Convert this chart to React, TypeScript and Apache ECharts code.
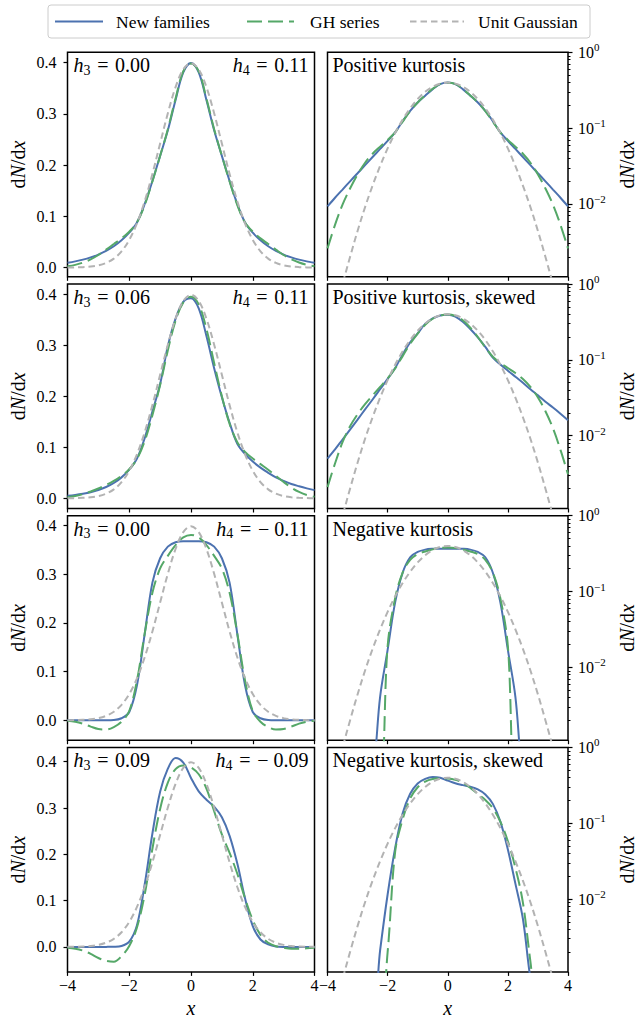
import React, { useEffect, useRef } from "react";
import * as echarts from "echarts";

// ---------- data ----------
const X = [-4, -3.75, -3.5, -3.25, -3, -2.75, -2.5, -2.25, -2, -1.75, -1.5, -1.25, -1, -0.75, -0.5, -0.25, 0,
  0.25, 0.5, 0.75, 1, 1.25, 1.5, 1.75, 2, 2.25, 2.5, 2.75, 3, 3.25, 3.5, 3.75, 4];

const GAUSS = [0.00013, 0.00035, 0.00087, 0.002, 0.0044, 0.0091, 0.0175, 0.0317, 0.054, 0.0863, 0.1295, 0.1826, 0.242, 0.3011, 0.3521, 0.3867, 0.3989,
  0.3867, 0.3521, 0.3011, 0.242, 0.1826, 0.1295, 0.0863, 0.054, 0.0317, 0.0175, 0.0091, 0.0044, 0.002, 0.00087, 0.00035, 0.00013];

const NEW_1 = [0.0093, 0.0121, 0.0155, 0.0199, 0.0254, 0.0325, 0.0416, 0.0532, 0.068, 0.088, 0.124, 0.169, 0.218, 0.268, 0.327, 0.381, 0.399,
  0.381, 0.327, 0.268, 0.218, 0.169, 0.124, 0.088, 0.068, 0.0532, 0.0416, 0.0325, 0.0254, 0.0199, 0.0155, 0.0121, 0.0093];
const GH_1 = [0.0026, 0.0053, 0.0098, 0.016, 0.0245, 0.035, 0.046, 0.057, 0.07, 0.088, 0.122, 0.168, 0.218, 0.27, 0.33, 0.383, 0.398,
  0.383, 0.33, 0.27, 0.218, 0.168, 0.122, 0.088, 0.07, 0.057, 0.046, 0.035, 0.0245, 0.016, 0.0098, 0.0053, 0.0026];

const NEW_2 = [0.005, 0.0066, 0.0089, 0.012, 0.0163, 0.0222, 0.03, 0.041, 0.056, 0.078, 0.118, 0.17, 0.224, 0.298, 0.352, 0.385, 0.392,
  0.372, 0.318, 0.255, 0.198, 0.148, 0.107, 0.087, 0.072, 0.06, 0.05, 0.041, 0.034, 0.028, 0.0235, 0.0195, 0.016];
const GH_2 = [0.0021, 0.0043, 0.0082, 0.0133, 0.0192, 0.026, 0.034, 0.044, 0.057, 0.077, 0.112, 0.163, 0.222, 0.29, 0.348, 0.384, 0.395,
  0.38, 0.332, 0.265, 0.2, 0.146, 0.11, 0.091, 0.078, 0.067, 0.056, 0.044, 0.032, 0.021, 0.0125, 0.0065, 0.0031];

const NEW_3 = [0, 0, 0, 0, 0.000001, 0.00002, 0.0004, 0.0041, 0.017, 0.072, 0.177, 0.283, 0.333, 0.357, 0.366, 0.368, 0.368,
  0.368, 0.366, 0.357, 0.333, 0.283, 0.177, 0.072, 0.017, 0.0041, 0.0004, 0.00002, 0.000001, 0, 0, 0, 0];
const GH_3 = [-0.001, -0.003, -0.007, -0.013, -0.018, -0.019, -0.014, -0.003, 0.019, 0.082, 0.178, 0.262, 0.312, 0.338, 0.36, 0.376, 0.381,
  0.376, 0.36, 0.338, 0.312, 0.262, 0.178, 0.082, 0.019, -0.003, -0.014, -0.019, -0.018, -0.013, -0.007, -0.003, -0.001];

const NEW_4 = [0, 0, 0, 0.000001, 0.00001, 0.00005, 0.0003, 0.0021, 0.0115, 0.047, 0.135, 0.245, 0.335, 0.385, 0.408, 0.398, 0.365,
  0.336, 0.318, 0.303, 0.28, 0.24, 0.18, 0.105, 0.045, 0.016, 0.0055, 0.0009, 0.00005, 0.000001, 0, 0, 0];
const GH_4 = [-0.002, -0.004, -0.008, -0.015, -0.024, -0.03, -0.032, -0.02, 0.002, 0.042, 0.113, 0.212, 0.298, 0.355, 0.384, 0.392, 0.388,
  0.373, 0.342, 0.293, 0.243, 0.203, 0.158, 0.105, 0.058, 0.026, 0.009, 0.0015, -0.002, -0.004, -0.004, -0.003, -0.002];

const H3_LABELS = ["0.00", "0.06", "0.00", "0.09"];
const H4_LABELS = ["0.11", "0.11", "\u2212 0.11", "\u2212 0.09"];
const PANEL_TITLES = ["Positive kurtosis", "Positive kurtosis, skewed", "Negative kurtosis", "Negative kurtosis, skewed"];
const LEGEND_NAMES = ["New families", "GH series", "Unit Gaussian"];
const LIN_TICKS = [0, 0.1, 0.2, 0.3, 0.4];
const LOG_MAJOR = [-2, -1, 0];
const X_TICKS_INTERVAL = 2;

// ---------- layout / style ----------
const FONT = "'Liberation Serif', 'DejaVu Serif', serif";
const C_NEW = "#4c72b0";
const C_GH = "#55a868";
const C_GAUSS = "#b3b3b3";
const DASH_GH = [15, 6];
const DASH_GAUSS = [6.5, 4];
const ROW_TOP = [52.3, 284, 515.7, 747.4];
const ROW_H = 224.5;
const LEFT_X = 67.5, LEFT_W = 247;
const RIGHT_X = 327.5, RIGHT_W = 248;
const Y_MIN = [-0.018, -0.02, -0.041, -0.054];
const Y_MAX = [0.42, 0.42, 0.4205, 0.431];
const LOG_MIN = -2.96, LOG_MAX = 0;
const LOG_FLOOR = 3e-4;
const SP = "\u2004";

const minus = (s: string) => s.replace("-", "\u2212");

function buildOption() {
  const NEW = [NEW_1, NEW_2, NEW_3, NEW_4];
  const GH = [GH_1, GH_2, GH_3, GH_4];
  const minor: number[] = [];
  for (let n = -3; n <= -1; n++) {
    for (let k = 2; k <= 9; k++) {
      const v = Math.log10(k * Math.pow(10, n));
      if (v >= LOG_MIN) minor.push(v);
    }
  }
  const grid: any[] = [];
  const xAxis: any[] = [];
  const yAxis: any[] = [];
  const series: any[] = [];
  const graphic: any[] = [];
  const tickStyle = { color: "#000", width: 1.2 };
  const yName = "{r|d}{i|N}{r|/d}{i|x}";
  const yNameStyle = {
    fontFamily: FONT,
    rich: {
      r: { fontFamily: FONT, fontSize: 20, color: "#000" },
      i: { fontFamily: FONT, fontSize: 20, fontStyle: "italic", color: "#000" },
    },
  };

  for (let r = 0; r < 4; r++) {
    const top = ROW_TOP[r];
    const last = r === 3;
    for (let c = 0; c < 2; c++) {
      grid.push({
        left: c === 0 ? LEFT_X : RIGHT_X,
        top,
        width: c === 0 ? LEFT_W : RIGHT_W,
        height: ROW_H,
        show: true,
        borderColor: "#000",
        borderWidth: 1.5,
        backgroundColor: "transparent",
        containLabel: false,
      });
      xAxis.push({
        type: "value",
        gridIndex: 2 * r + c,
        min: -4,
        max: 4,
        interval: X_TICKS_INTERVAL,
        axisLine: { show: false, onZero: false },
        axisTick: { show: true, inside: false, length: 4, lineStyle: tickStyle },
        axisLabel: {
          show: last,
          fontFamily: FONT,
          fontSize: 16,
          color: "#000",
          margin: 6,
          formatter: (v: number) => minus(String(v)),
        },
        splitLine: { show: false },
        name: last ? "x" : "",
        nameLocation: "middle",
        nameGap: 26,
        nameTextStyle: { fontFamily: FONT, fontSize: 20, fontStyle: "italic", color: "#000" },
      });
    }
    // left linear y axis
    yAxis.push({
      type: "value",
      gridIndex: 2 * r,
      position: "left",
      min: Y_MIN[r],
      max: Y_MAX[r],
      axisLine: { show: false, onZero: false },
      axisTick: { show: true, inside: false, length: 4, lineStyle: tickStyle, customValues: LIN_TICKS },
      axisLabel: {
        customValues: LIN_TICKS,
        fontFamily: FONT,
        fontSize: 16,
        color: "#000",
        margin: 11,
        formatter: (v: number) => v.toFixed(1),
      },
      splitLine: { show: false },
      name: yName,
      nameLocation: "middle",
      nameRotate: 90,
      nameGap: 40,
      nameTextStyle: yNameStyle,
    });
    // right log y axis (major)
    yAxis.push({
      type: "value",
      gridIndex: 2 * r + 1,
      position: "right",
      min: LOG_MIN,
      max: LOG_MAX,
      axisLine: { show: false, onZero: false },
      axisTick: { show: true, inside: false, length: 4.5, lineStyle: tickStyle, customValues: LOG_MAJOR },
      axisLabel: {
        customValues: LOG_MAJOR,
        margin: 10,
        fontFamily: FONT,
        formatter: (v: number) => `{b|10}{s|${minus(String(Math.round(v)))}}`,
        rich: {
          b: { fontFamily: FONT, fontSize: 16, color: "#000" },
          s: { fontFamily: FONT, fontSize: 11, color: "#000", padding: [0, 0, 10, 0] },
        },
      },
      splitLine: { show: false },
      name: yName,
      nameLocation: "middle",
      nameRotate: 90,
      nameGap: 49,
      nameTextStyle: yNameStyle,
    });
    // right log y axis (minor ticks)
    yAxis.push({
      type: "value",
      gridIndex: 2 * r + 1,
      position: "right",
      min: LOG_MIN,
      max: LOG_MAX,
      axisLine: { show: false, onZero: false },
      axisTick: { show: true, inside: false, length: 2.5, lineStyle: { color: "#000", width: 1 }, customValues: minor },
      axisLabel: { show: false },
      splitLine: { show: false },
    });

    const sets = [
      { name: LEGEND_NAMES[0], data: NEW[r], color: C_NEW, type: "solid", z: 2 },
      { name: LEGEND_NAMES[1], data: GH[r], color: C_GH, type: DASH_GH, z: 3 },
      { name: LEGEND_NAMES[2], data: GAUSS, color: C_GAUSS, type: DASH_GAUSS, z: 4 },
    ];
    for (const s of sets) {
      const base = {
        type: "line",
        name: s.name,
        showSymbol: false,
        symbol: "none",
        smooth: 0.35,
        silent: true,
        clip: true,
        z: s.z,
        lineStyle: { color: s.color, width: 2, type: s.type },
      };
      series.push({
        ...base,
        xAxisIndex: 2 * r,
        yAxisIndex: 3 * r,
        data: X.map((x, i) => [x, s.data[i]]),
      });
      series.push({
        ...base,
        xAxisIndex: 2 * r + 1,
        yAxisIndex: 3 * r + 1,
        data: X.map((x, i) => [x, Math.log10(Math.max(s.data[i], LOG_FLOOR))]),
      });
    }

    const richMath = {
      i: { fontFamily: FONT, fontSize: 20, fontStyle: "italic", fill: "#000" },
      s: { fontFamily: FONT, fontSize: 14, fill: "#000", padding: [10, 0, 0, 0] },
      r: { fontFamily: FONT, fontSize: 20, fill: "#000" },
    };
    graphic.push({
      type: "text",
      x: LEFT_X + 6,
      y: top + 13,
      z: 10,
      style: {
        text: `{i|h}{s|3}{r|${SP}=${SP}${H3_LABELS[r]}}`,
        rich: richMath,
        fontFamily: FONT,
        align: "left",
        verticalAlign: "middle",
      },
    });
    graphic.push({
      type: "text",
      x: LEFT_X + LEFT_W - 6,
      y: top + 13,
      z: 10,
      style: {
        text: `{i|h}{s|4}{r|${SP}=${SP}${H4_LABELS[r]}}`,
        rich: richMath,
        fontFamily: FONT,
        align: "right",
        verticalAlign: "middle",
      },
    });
    graphic.push({
      type: "text",
      x: RIGHT_X + 5,
      y: top + 13,
      z: 10,
      style: {
        text: PANEL_TITLES[r],
        fontFamily: FONT,
        fontSize: 20,
        fill: "#000",
        align: "left",
        verticalAlign: "middle",
      },
    });
  }

  // legend box
  const ly = 21.5;
  graphic.push({
    type: "rect",
    z: 20,
    shape: { x: 48, y: 5, width: 542, height: 33, r: 3 },
    style: { fill: "#fff", stroke: "#cccccc", lineWidth: 1 },
  });
  const legendItems = [
    { x1: 55, x2: 103, tx: 116, color: C_NEW, dash: null, name: LEGEND_NAMES[0] },
    { x1: 247, x2: 294, tx: 310, color: C_GH, dash: DASH_GH, name: LEGEND_NAMES[1] },
    { x1: 410, x2: 464, tx: 478, color: C_GAUSS, dash: DASH_GAUSS, name: LEGEND_NAMES[2] },
  ];
  for (const it of legendItems) {
    graphic.push({
      type: "line",
      z: 21,
      shape: { x1: it.x1, y1: ly, x2: it.x2, y2: ly },
      style: { stroke: it.color, lineWidth: 2, lineDash: it.dash || undefined },
    });
    graphic.push({
      type: "text",
      z: 21,
      x: it.tx,
      y: ly,
      style: { text: it.name, fontFamily: FONT, fontSize: 17.5, fill: "#000", align: "left", verticalAlign: "middle" },
    });
  }

  return {
    animation: false,
    backgroundColor: "#fff",
    textStyle: { fontFamily: FONT },
    grid,
    xAxis,
    yAxis,
    series,
    graphic,
  };
}

export default function App() {
  const ref = useRef<HTMLDivElement>(null);
  useEffect(() => {
    document.body.style.margin = "0";
    const chart = echarts.init(ref.current!, undefined, { renderer: "svg" });
    chart.setOption(buildOption() as any);
    return () => chart.dispose();
  }, []);
  return (
    <div
      ref={ref}
      style={{ position: "absolute", left: 0, top: 0, width: 638, height: 1019, background: "#fff" }}
    />
  );
}
